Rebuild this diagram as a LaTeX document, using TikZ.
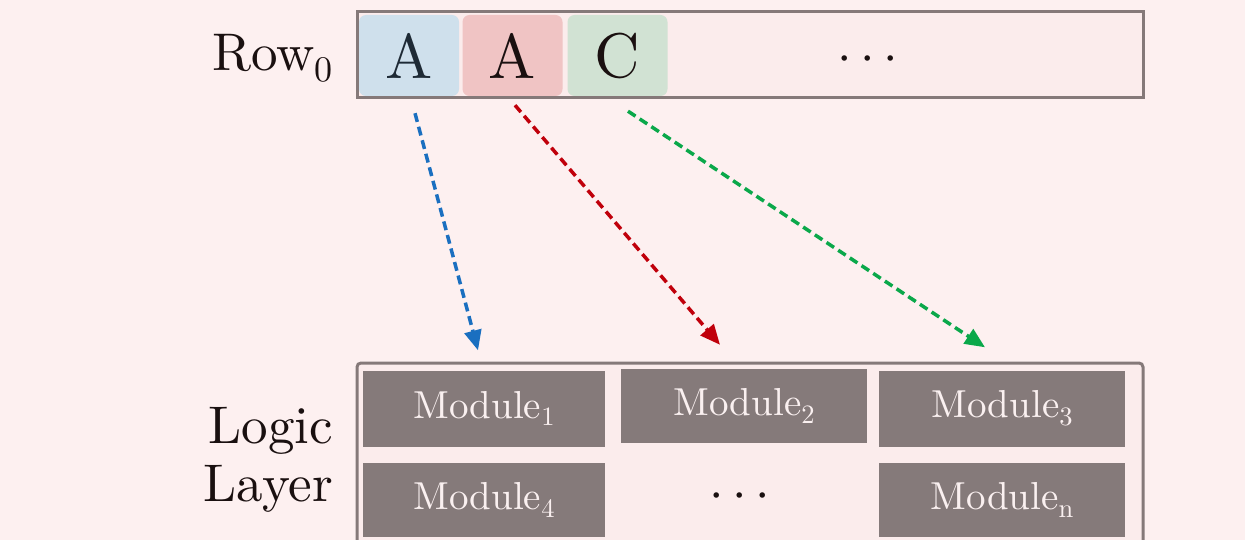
\RequirePackage{fix-cm}
\documentclass[tikz,border=0pt]{standalone}
\usepackage{fontspec}
\usepackage{graphicx}
\setmainfont{lmroman10-regular.otf}
\usetikzlibrary{arrows.meta,calc}
\newcommand\lowsub[1]{\raisebox{-0.2em}{\scalebox{0.68}{#1}}}
\definecolor{bg}{HTML}{FDF0F0}
\definecolor{boxfill}{HTML}{FBECEC}
\definecolor{frame}{HTML}{857979}
\definecolor{modfill}{HTML}{857A7A}
\definecolor{modtext}{HTML}{FAF0F0}
\definecolor{cblue}{HTML}{CFE0EC}
\definecolor{cred}{HTML}{F0C4C4}
\definecolor{cgreen}{HTML}{D1E2D3}
\definecolor{ablue}{HTML}{1A6FC0}
\definecolor{ared}{HTML}{C0000B}
\definecolor{agreen}{HTML}{0AA84A}
\definecolor{ink}{HTML}{1A1010}
\tikzset{
  rowbox/.style={draw=frame, line width=3pt, fill=boxfill, minimum width=786pt, minimum height=86pt, inner sep=0pt},
  cellbox/.style={rounded corners=7pt, minimum width=100pt, minimum height=81pt, inner sep=0pt, font=\fontsize{63}{70}\selectfont, text=ink},
  modbox/.style={fill=modfill, text=modtext, minimum width=242pt, minimum height=76pt, inner sep=0pt, font=\fontsize{39}{45}\selectfont},
  lbl/.style={font=\fontsize{53}{60}\selectfont, text=ink, align=right, inner sep=0pt},
  flow/.style={line width=3.5pt, dash pattern=on 9pt off 5pt, -{Triangle[length=20pt,width=17pt]}},
}
\begin{document}
\begin{tikzpicture}[x=1pt,y=-1pt]
\useasboundingbox (0,0) rectangle (1245,540);
\fill[bg] (0,0) rectangle (1245,540);
% row
\node[rowbox] (row) at (750,55) {};
\node[cellbox, fill=cblue, text={rgb,255:red,30;green,42;blue,53}] (ca) at (409,55.5) {A};
\node[cellbox, fill=cred] (cb) at (512.5,55.5) {A};
\node[cellbox, fill=cgreen] (cc) at (617.5,55.5) {C};
\node[font=\fontsize{52}{60}\selectfont, text=ink, inner sep=0pt] (rdots) at (868,60) {$\cdots$};
\node[lbl, anchor=east] (rowlbl) at (333,58) {Row\lowsub{0}};
% logic layer
\draw[frame, line width=3pt, fill=boxfill, rounded corners=4pt] (357,560) -- (357,363) -- (1143,363) -- (1143,560);
\coordinate (lay) at (750,363);
\node[modbox] (m1) at (484,408.5) {Module\lowsub{1}};
\node[modbox, minimum width=246pt, minimum height=74pt] (m2) at (744,406) {Module\lowsub{2}};
\node[modbox, minimum width=246pt] (m3) at (1002,408.5) {Module\lowsub{3}};
\node[modbox, minimum height=74pt] (m4) at (484,500) {Module\lowsub{4}};
\node[font=\fontsize{52}{60}\selectfont, text=ink, inner sep=0pt] (mdots) at (740,497) {$\cdots$};
\node[modbox, minimum width=246pt, minimum height=74pt] (mn) at (1002,500) {Module\lowsub{n}};
\node[lbl, anchor=east] (laylbl) at (333,460) {Logic\\[-2pt]Layer};
% arrows
\draw[flow, ablue] ($(ca.south)+(6,17)$) -- ($(m1.north)+(-6,-20)$);
\draw[flow, ared] ($(cb.south)+(2.5,9)$) -- ($(m2.north)+(-24,-24)$);
\draw[flow, agreen] ($(cc.south)+(10.5,15)$) -- ($(m3.north)+(-17,-23)$);
\end{tikzpicture}
\end{document}
